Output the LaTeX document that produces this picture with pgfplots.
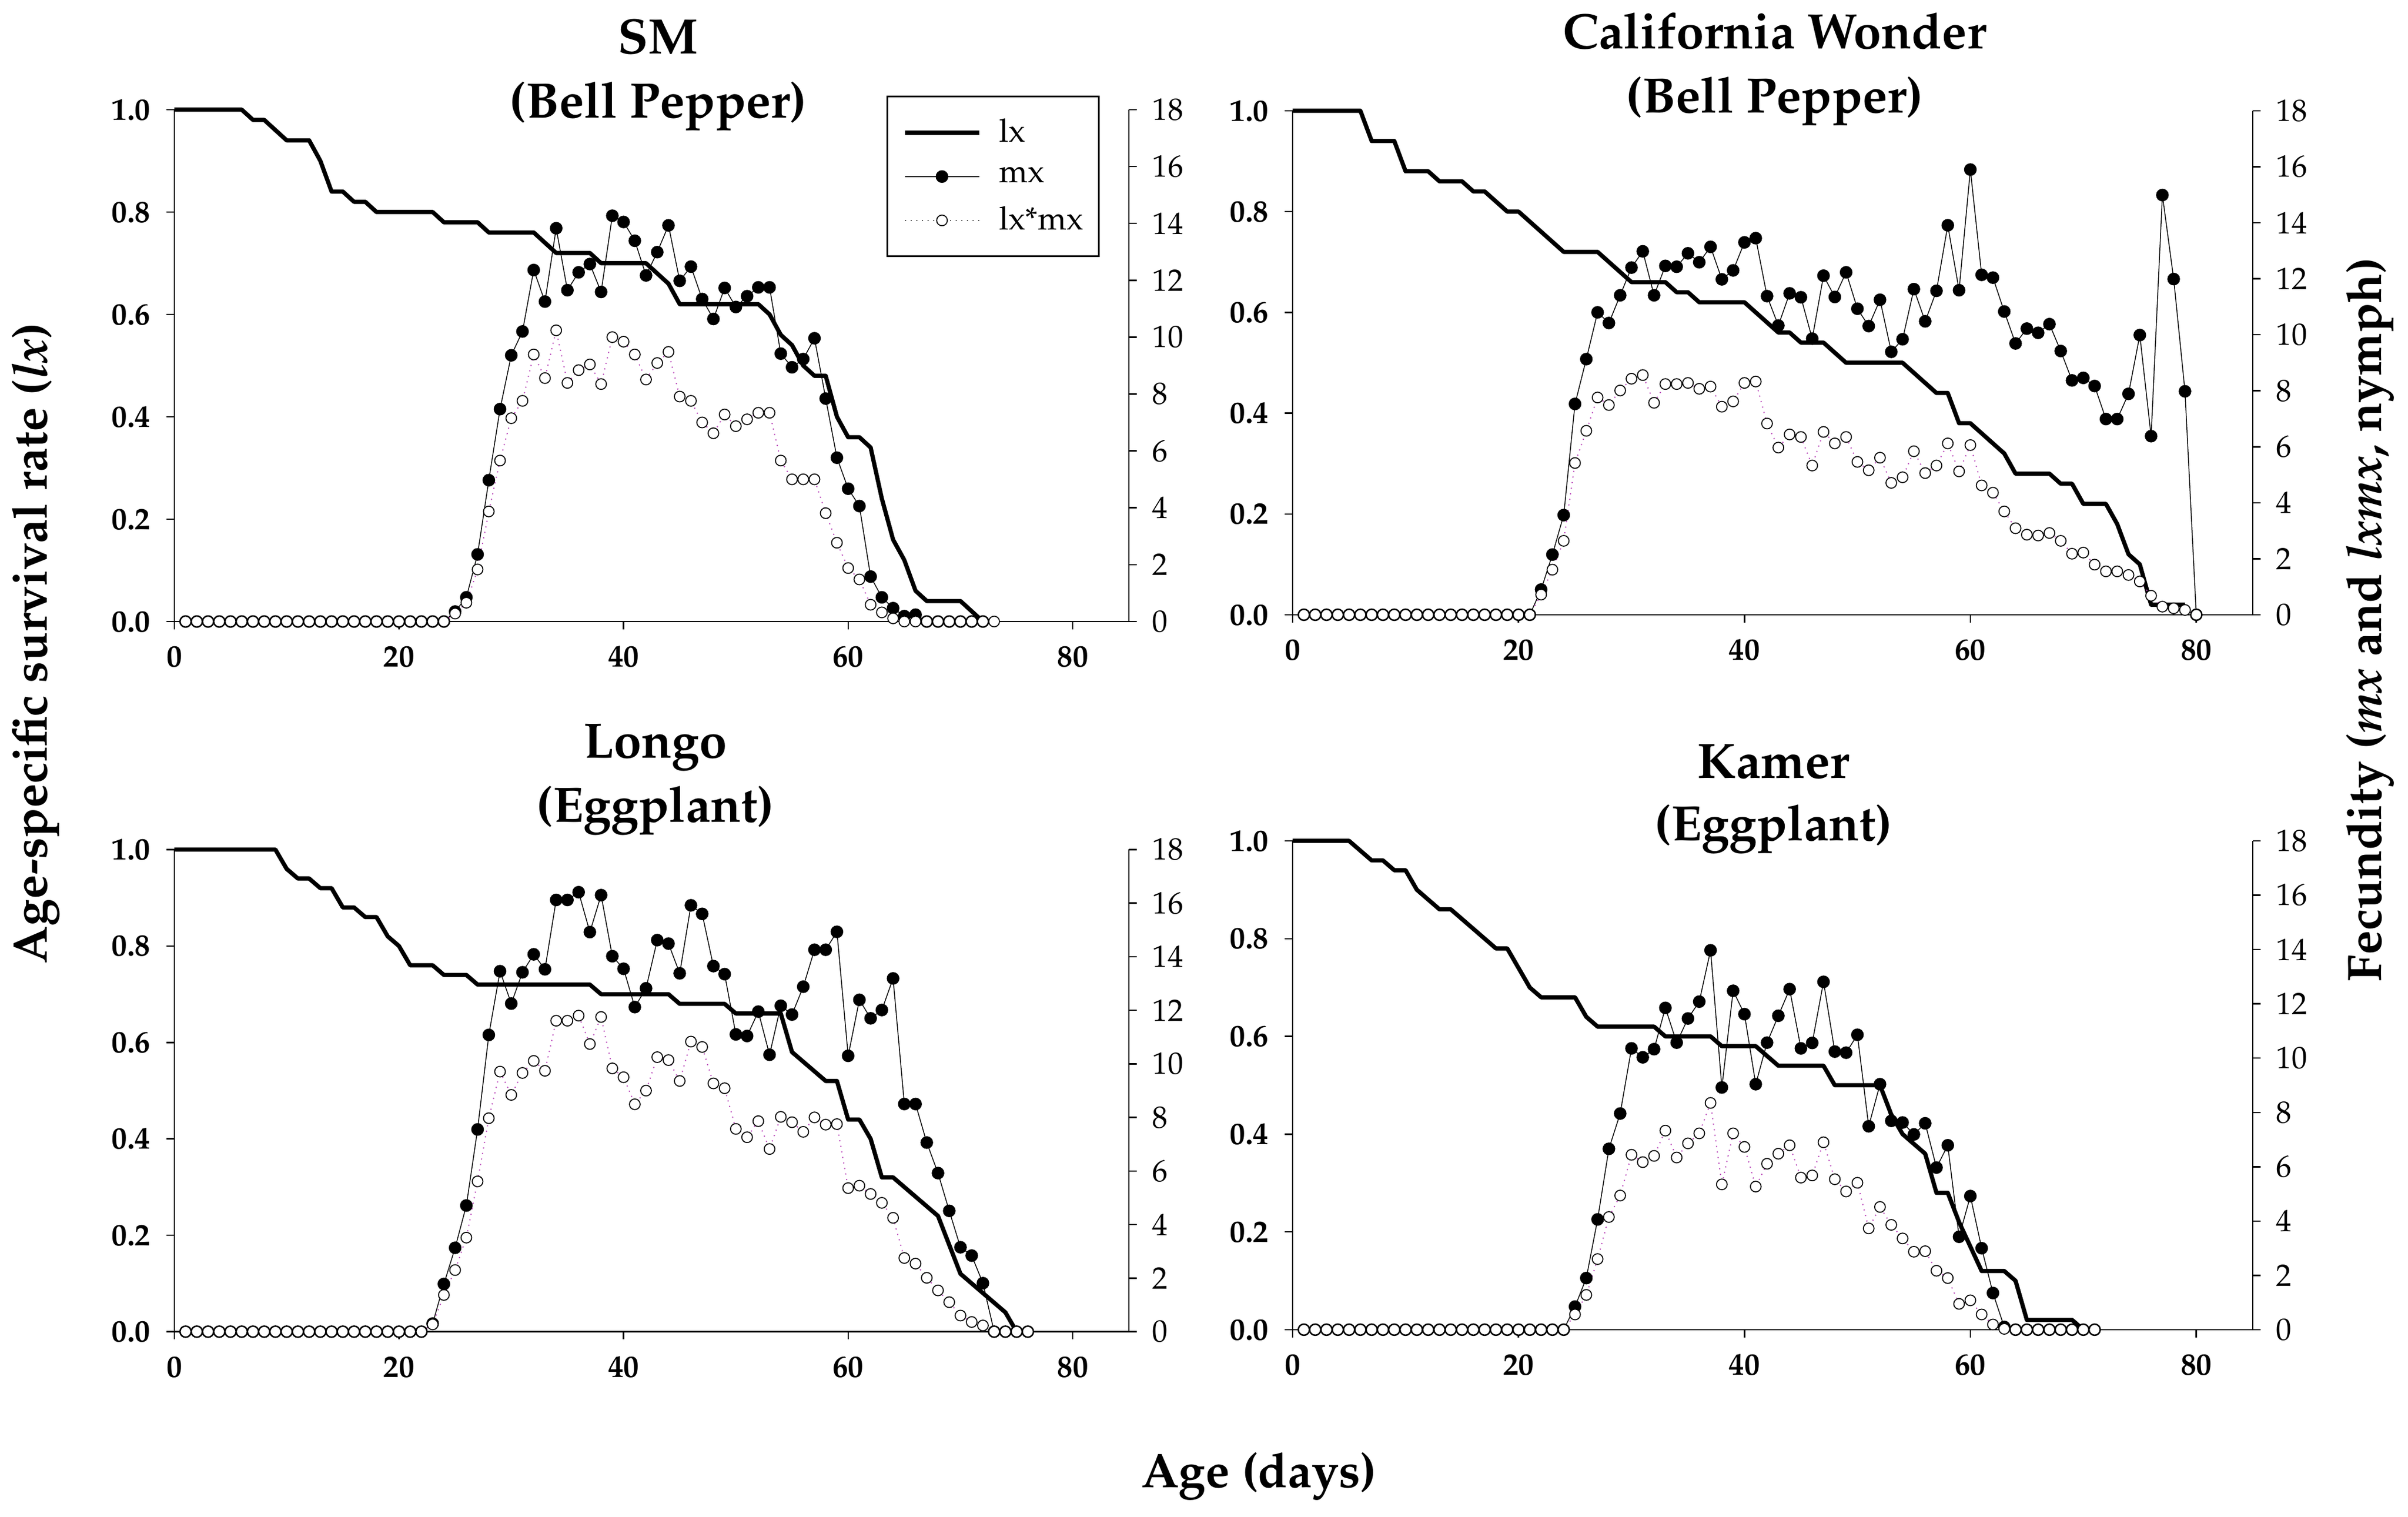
\documentclass[border=0pt]{standalone}
\usepackage[T1]{fontenc}
\usepackage{mathpazo}
\usepackage{pgfplots}
\pgfplotsset{compat=1.18}
\definecolor{dotc}{RGB}{185,70,185}
\newcommand\tickfont{\fontsize{11}{13}\selectfont}
\newcommand\titlefont{\fontsize{17.7}{20}\selectfont\bfseries}
\newcommand\labfont{\fontsize{17.2}{20}\selectfont\bfseries}
\pgfplotsset{
  common/.style={scale only axis, xmin=0, xmax=85, clip=false,
    axis line style={-, line width=0.5pt, black},
    tick align=outside, major tick length=2.8pt,
    tick style={line width=0.5pt, black},
    /pgf/number format/assume math mode=true},
  lxax/.style={common, ymin=0, ymax=1,
    axis x line*=bottom, axis y line*=left,
    xtick={0,20,40,60,80}, ytick={0,0.2,0.4,0.6,0.8,1},
    yticklabel style={/pgf/number format/fixed, /pgf/number format/fixed zerofill, /pgf/number format/precision=1, xshift=-2.2pt},
    ticklabel style={font=\tickfont\bfseries},
    xticklabel style={yshift=-2.4pt}},
  fax/.style={common, ymin=0, ymax=18,
    axis x line=none, axis y line*=right,
    ytick={0,2,4,6,8,10,12,14,16,18},
    yticklabel style={font=\tickfont, xshift=2pt}},
  lxst/.style={black, line width=1.5pt, line join=round, no marks},
  mxst/.style={black, line width=0.3pt, mark=*, mark size=2.1pt, mark options={solid, fill=black, draw=black}},
  lmst/.style={dotc, line width=0.4pt, dash pattern=on 0.4pt off 1.6pt, mark=*, mark size=1.9pt,
    mark options={solid, fill=white, draw=black, line width=0.35pt}},
}
\begin{document}
\begin{tikzpicture}
\useasboundingbox (0,0) rectangle (856.2pt,539.4pt);
% ---------------- Panel 1: SM ----------------
\begin{axis}[lxax, at={(62pt,318.4pt)}, anchor=south west, width=339.4pt, height=182pt]
\addplot[lxst] coordinates {(0,1)(1,1)(2,1)(3,1)(4,1)(5,1)(6,1)(7,0.98)(8,0.98)(9,0.96)(10,0.94)(11,0.94)(12,0.94)(13,0.90)(14,0.84)(15,0.84)(16,0.82)(17,0.82)(18,0.80)(19,0.80)(20,0.80)(21,0.80)(22,0.80)(23,0.80)(24,0.78)(25,0.78)(26,0.78)(27,0.78)(28,0.76)(29,0.76)(30,0.76)(31,0.76)(32,0.76)(33,0.74)(34,0.72)(35,0.72)(36,0.72)(37,0.72)(38,0.70)(39,0.70)(40,0.70)(41,0.70)(42,0.70)(43,0.68)(44,0.66)(45,0.62)(46,0.62)(47,0.62)(48,0.62)(49,0.62)(50,0.62)(51,0.62)(52,0.62)(53,0.60)(54,0.56)(55,0.54)(56,0.50)(57,0.48)(58,0.48)(59,0.40)(60,0.36)(61,0.36)(62,0.34)(63,0.24)(64,0.16)(65,0.12)(66,0.06)(67,0.04)(68,0.04)(69,0.04)(70,0.04)(71,0.02)(72,0)};
\end{axis}
\begin{axis}[fax, at={(62pt,318.4pt)}, anchor=south west, width=339.4pt, height=182pt,
  legend style={at={(axis description cs:0.746,1.027)}, anchor=north west, draw=black, line width=0.6pt,
    font=\fontsize{11.5}{13}\selectfont, cells={anchor=west}, row sep=0pt,
    inner xsep=5.5pt, inner ysep=5pt, nodes={inner sep=0pt, minimum height=15.6pt},
    /tikz/every odd column/.append style={column sep=6.4pt}},
  legend image code/.code={\draw[mark repeat=2,mark phase=2,#1] plot coordinates {(0pt,0pt) (13.2pt,0pt) (26.4pt,0pt)};}]
\addlegendimage{lxst}\addlegendentry{lx}
\addlegendimage{mxst}\addlegendentry{mx}
\addlegendimage{lmst, draw=gray!70!black}\addlegendentry{lx*mx}
\addplot[mxst, forget plot] coordinates {(1,0)(2,0)(3,0)(4,0)(5,0)(6,0)(7,0)(8,0)(9,0)(10,0)(11,0)(12,0)(13,0)(14,0)(15,0)(16,0)(17,0)(18,0)(19,0)(20,0)(21,0)(22,0)(23,0)(24,0)(25,0.35)(26,0.85)(27,2.36)(28,4.97)(29,7.47)(30,9.36)(31,10.2)(32,12.36)(33,11.25)(34,13.83)(35,11.65)(36,12.28)(37,12.57)(38,11.59)(39,14.27)(40,14.05)(41,13.39)(42,12.17)(43,12.99)(44,13.93)(45,11.98)(46,12.48)(47,11.34)(48,10.64)(49,11.73)(50,11.06)(51,11.44)(52,11.75)(53,11.75)(54,9.42)(55,8.94)(56,9.23)(57,9.96)(58,7.84)(59,5.76)(60,4.67)(61,4.06)(62,1.58)(63,0.85)(64,0.47)(65,0.19)(66,0.24)(67,0)(68,0)(69,0)(70,0)(71,0)(72,0)};
\addplot[lmst, forget plot] coordinates {(1,0)(2,0)(3,0)(4,0)(5,0)(6,0)(7,0)(8,0)(9,0)(10,0)(11,0)(12,0)(13,0)(14,0)(15,0)(16,0)(17,0)(18,0)(19,0)(20,0)(21,0)(22,0)(23,0)(24,0)(25,0.28)(26,0.66)(27,1.83)(28,3.87)(29,5.66)(30,7.15)(31,7.76)(32,9.39)(33,8.56)(34,10.24)(35,8.39)(36,8.84)(37,9.04)(38,8.35)(39,10.0)(40,9.84)(41,9.39)(42,8.51)(43,9.09)(44,9.48)(45,7.91)(46,7.76)(47,7.0)(48,6.62)(49,7.28)(50,6.87)(51,7.11)(52,7.34)(53,7.34)(54,5.66)(55,5.0)(56,5.0)(57,5.0)(58,3.81)(59,2.77)(60,1.88)(61,1.48)(62,0.59)(63,0.32)(64,0.11)(65,0)(66,0)(67,0)(68,0)(69,0)(70,0)(71,0)(72,0)(73,0)};
\end{axis}
% ---------------- Panel 2: California Wonder ----------------
\begin{axis}[lxax, at={(459.6pt,320.8pt)}, anchor=south west, width=341.4pt, height=179.2pt]
\addplot[lxst] coordinates {(0,1)(1,1)(2,1)(3,1)(4,1)(5,1)(6,1)(7,0.94)(8,0.94)(9,0.94)(10,0.88)(11,0.88)(12,0.88)(13,0.86)(14,0.86)(15,0.86)(16,0.84)(17,0.84)(18,0.82)(19,0.80)(20,0.80)(21,0.78)(22,0.76)(23,0.74)(24,0.72)(25,0.72)(26,0.72)(27,0.72)(28,0.70)(29,0.68)(30,0.66)(31,0.66)(32,0.66)(33,0.66)(34,0.64)(35,0.64)(36,0.62)(37,0.62)(38,0.62)(39,0.62)(40,0.62)(41,0.60)(42,0.58)(43,0.56)(44,0.56)(45,0.54)(46,0.54)(47,0.54)(48,0.52)(49,0.50)(50,0.50)(51,0.50)(52,0.50)(53,0.50)(54,0.50)(55,0.48)(56,0.46)(57,0.44)(58,0.44)(59,0.38)(60,0.38)(61,0.36)(62,0.34)(63,0.32)(64,0.28)(65,0.28)(66,0.28)(67,0.28)(68,0.26)(69,0.26)(70,0.22)(71,0.22)(72,0.22)(73,0.18)(74,0.12)(75,0.10)(76,0.02)(77,0.02)(78,0.02)(79,0.02)};
\end{axis}
\begin{axis}[fax, at={(459.6pt,320.8pt)}, anchor=south west, width=341.4pt, height=179.2pt]
\addplot[mxst] coordinates {(1,0)(2,0)(3,0)(4,0)(5,0)(6,0)(7,0)(8,0)(9,0)(10,0)(11,0)(12,0)(13,0)(14,0)(15,0)(16,0)(17,0)(18,0)(19,0)(20,0)(21,0)(22,0.90)(23,2.15)(24,3.56)(25,7.53)(26,9.13)(27,10.80)(28,10.42)(29,11.41)(30,12.40)(31,12.98)(32,11.41)(33,12.46)(34,12.43)(35,12.91)(36,12.59)(37,13.14)(38,11.98)(39,12.30)(40,13.30)(41,13.45)(42,11.38)(43,10.33)(44,11.48)(45,11.34)(46,9.86)(47,12.11)(48,11.35)(49,12.23)(50,10.93)(51,10.31)(52,11.25)(53,9.39)(54,9.84)(55,11.63)(56,10.48)(57,11.57)(58,13.91)(59,11.59)(60,15.90)(61,12.14)(62,12.04)(63,10.83)(64,9.69)(65,10.22)(66,10.07)(67,10.38)(68,9.42)(69,8.37)(70,8.46)(71,8.17)(72,6.99)(73,6.99)(74,7.89)(75,9.99)(76,6.38)(77,14.99)(78,11.99)(79,7.98)(80,0)};
\addplot[lmst] coordinates {(1,0)(2,0)(3,0)(4,0)(5,0)(6,0)(7,0)(8,0)(9,0)(10,0)(11,0)(12,0)(13,0)(14,0)(15,0)(16,0)(17,0)(18,0)(19,0)(20,0)(21,0)(22,0.72)(23,1.61)(24,2.64)(25,5.42)(26,6.57)(27,7.76)(28,7.49)(29,8.01)(30,8.43)(31,8.56)(32,7.57)(33,8.24)(34,8.24)(35,8.28)(36,8.07)(37,8.15)(38,7.43)(39,7.62)(40,8.28)(41,8.33)(42,6.83)(43,5.97)(44,6.44)(45,6.35)(46,5.33)(47,6.53)(48,6.12)(49,6.35)(50,5.46)(51,5.16)(52,5.61)(53,4.71)(54,4.91)(55,5.84)(56,5.06)(57,5.33)(58,6.12)(59,5.12)(60,6.06)(61,4.62)(62,4.36)(63,3.69)(64,3.09)(65,2.86)(66,2.83)(67,2.92)(68,2.64)(69,2.18)(70,2.22)(71,1.79)(72,1.55)(73,1.55)(74,1.42)(75,1.19)(76,0.68)(77,0.29)(78,0.23)(79,0.17)(80,0)};
\end{axis}
% ---------------- Panel 3: Longo ----------------
\begin{axis}[lxax, at={(62pt,65.9pt)}, anchor=south west, width=339.4pt, height=171.4pt]
\addplot[lxst] coordinates {(0,1)(1,1)(2,1)(3,1)(4,1)(5,1)(6,1)(7,1)(8,1)(9,1)(10,0.96)(11,0.94)(12,0.94)(13,0.92)(14,0.92)(15,0.88)(16,0.88)(17,0.86)(18,0.86)(19,0.82)(20,0.80)(21,0.76)(22,0.76)(23,0.76)(24,0.74)(25,0.74)(26,0.74)(27,0.72)(28,0.72)(29,0.72)(30,0.72)(31,0.72)(32,0.72)(33,0.72)(34,0.72)(35,0.72)(36,0.72)(37,0.72)(38,0.70)(39,0.70)(40,0.70)(41,0.70)(42,0.70)(43,0.70)(44,0.70)(45,0.68)(46,0.68)(47,0.68)(48,0.68)(49,0.68)(50,0.66)(51,0.66)(52,0.66)(53,0.66)(54,0.66)(55,0.58)(56,0.56)(57,0.54)(58,0.52)(59,0.52)(60,0.44)(61,0.44)(62,0.40)(63,0.32)(64,0.32)(65,0.30)(66,0.28)(67,0.26)(68,0.24)(69,0.18)(70,0.12)(71,0.10)(72,0.08)(73,0.06)(74,0.04)(75,0)};
\end{axis}
\begin{axis}[fax, at={(62pt,65.9pt)}, anchor=south west, width=339.4pt, height=171.4pt]
\addplot[mxst] coordinates {(1,0)(2,0)(3,0)(4,0)(5,0)(6,0)(7,0)(8,0)(9,0)(10,0)(11,0)(12,0)(13,0)(14,0)(15,0)(16,0)(17,0)(18,0)(19,0)(20,0)(21,0)(22,0)(23,0.3)(24,1.78)(25,3.13)(26,4.71)(27,7.55)(28,11.08)(29,13.46)(30,12.25)(31,13.42)(32,14.09)(33,13.53)(34,16.12)(35,16.12)(36,16.41)(37,14.92)(38,16.30)(39,14.02)(40,13.55)(41,12.12)(42,12.82)(43,14.62)(44,14.49)(45,13.38)(46,15.92)(47,15.60)(48,13.65)(49,13.35)(50,11.10)(51,11.04)(52,11.95)(53,10.34)(54,12.17)(55,11.84)(56,12.88)(57,14.26)(58,14.26)(59,14.93)(60,10.30)(61,12.39)(62,11.70)(63,12.01)(64,13.19)(65,8.50)(66,8.50)(67,7.06)(68,5.92)(69,4.51)(70,3.15)(71,2.84)(72,1.81)(73,0)(74,0)(75,0)(76,0)};
\addplot[lmst] coordinates {(1,0)(2,0)(3,0)(4,0)(5,0)(6,0)(7,0)(8,0)(9,0)(10,0)(11,0)(12,0)(13,0)(14,0)(15,0)(16,0)(17,0)(18,0)(19,0)(20,0)(21,0)(22,0)(23,0.27)(24,1.37)(25,2.30)(26,3.51)(27,5.61)(28,7.97)(29,9.71)(30,8.84)(31,9.66)(32,10.11)(33,9.74)(34,11.61)(35,11.61)(36,11.80)(37,10.74)(38,11.75)(39,9.83)(40,9.50)(41,8.49)(42,9.00)(43,10.25)(44,10.14)(45,9.36)(46,10.83)(47,10.63)(48,9.27)(49,9.09)(50,7.57)(51,7.26)(52,7.86)(53,6.82)(54,8.02)(55,7.82)(56,7.46)(57,8.00)(58,7.73)(59,7.75)(60,5.36)(61,5.45)(62,5.14)(63,4.81)(64,4.25)(65,2.75)(66,2.54)(67,2.01)(68,1.54)(69,1.10)(70,0.60)(71,0.36)(72,0.23)(73,0)(74,0)(75,0)(76,0)};
\end{axis}
% ---------------- Panel 4: Kamer ----------------
\begin{axis}[lxax, at={(459.6pt,66.6pt)}, anchor=south west, width=341.4pt, height=173.8pt]
\addplot[lxst] coordinates {(0,1)(1,1)(2,1)(3,1)(4,1)(5,1)(6,0.98)(7,0.96)(8,0.96)(9,0.94)(10,0.94)(11,0.90)(12,0.88)(13,0.86)(14,0.86)(15,0.84)(16,0.82)(17,0.80)(18,0.78)(19,0.78)(20,0.74)(21,0.70)(22,0.68)(23,0.68)(24,0.68)(25,0.68)(26,0.64)(27,0.62)(28,0.62)(29,0.62)(30,0.62)(31,0.62)(32,0.62)(33,0.60)(34,0.60)(35,0.60)(36,0.60)(37,0.60)(38,0.58)(39,0.58)(40,0.58)(41,0.58)(42,0.56)(43,0.54)(44,0.54)(45,0.54)(46,0.54)(47,0.54)(48,0.50)(49,0.50)(50,0.50)(51,0.50)(52,0.50)(53,0.44)(54,0.40)(55,0.38)(56,0.36)(57,0.28)(58,0.28)(59,0.22)(60,0.17)(61,0.12)(62,0.12)(63,0.12)(64,0.10)(65,0.02)(66,0.02)(67,0.02)(68,0.02)(69,0.02)(70,0)};
\end{axis}
\begin{axis}[fax, at={(459.6pt,66.6pt)}, anchor=south west, width=341.4pt, height=173.8pt]
\addplot[mxst] coordinates {(1,0)(2,0)(3,0)(4,0)(5,0)(6,0)(7,0)(8,0)(9,0)(10,0)(11,0)(12,0)(13,0)(14,0)(15,0)(16,0)(17,0)(18,0)(19,0)(20,0)(21,0)(22,0)(23,0)(24,0)(25,0.85)(26,1.90)(27,4.06)(28,6.66)(29,7.96)(30,10.36)(31,10.03)(32,10.33)(33,11.85)(34,10.57)(35,11.46)(36,12.08)(37,13.97)(38,8.92)(39,12.48)(40,11.62)(41,9.04)(42,10.57)(43,11.56)(44,12.54)(45,10.36)(46,10.56)(47,12.81)(48,10.24)(49,10.20)(50,10.86)(51,7.49)(52,9.04)(53,7.69)(54,7.63)(55,7.19)(56,7.60)(57,5.97)(58,6.79)(59,3.42)(60,4.92)(61,3.00)(62,1.35)(63,0.1)(64,0)(65,0)(66,0)(67,0)(68,0)(69,0)(70,0)(71,0)};
\addplot[lmst] coordinates {(1,0)(2,0)(3,0)(4,0)(5,0)(6,0)(7,0)(8,0)(9,0)(10,0)(11,0)(12,0)(13,0)(14,0)(15,0)(16,0)(17,0)(18,0)(19,0)(20,0)(21,0)(22,0)(23,0)(24,0)(25,0.56)(26,1.28)(27,2.60)(28,4.15)(29,4.94)(30,6.44)(31,6.17)(32,6.40)(33,7.33)(34,6.34)(35,6.86)(36,7.23)(37,8.35)(38,5.35)(39,7.23)(40,6.73)(41,5.27)(42,6.11)(43,6.48)(44,6.79)(45,5.60)(46,5.68)(47,6.90)(48,5.54)(49,5.09)(50,5.41)(51,3.73)(52,4.52)(53,3.86)(54,3.36)(55,2.87)(56,2.89)(57,2.17)(58,1.90)(59,0.95)(60,1.08)(61,0.56)(62,0.19)(63,0.03)(64,0)(65,0)(66,0)(67,0)(68,0)(69,0)(70,0)(71,0)};
\end{axis}
% ---------------- Titles and labels ----------------
\node[anchor=base, font=\titlefont] at (234pt,520.2pt) {SM};
\node[anchor=base, font=\titlefont] at (234pt,497.4pt) {(Bell Pepper)};
\node[anchor=base, font=\titlefont] at (631pt,522pt) {California Wonder};
\node[anchor=base, font=\titlefont] at (631pt,499.2pt) {(Bell Pepper)};
\node[anchor=base, font=\titlefont] at (233pt,269.8pt) {Longo};
\node[anchor=base, font=\titlefont] at (233pt,247pt) {(Eggplant)};
\node[anchor=base, font=\titlefont] at (630.6pt,262.6pt) {Kamer};
\node[anchor=base, font=\titlefont] at (630.6pt,240.4pt) {(Eggplant)};
\node[rotate=90, font=\labfont, inner sep=0pt] at (12.6pt,310.6pt) {Age-specific survival rate (\textit{lx})};
\node[rotate=90, font=\labfont, inner sep=0pt] at (842.6pt,319pt) {Fecundity (\textit{mx} and \textit{lxmx}, nymph)};
\node[anchor=base, font=\labfont] at (447.6pt,10.4pt) {Age (days)};
\end{tikzpicture}
\end{document}
